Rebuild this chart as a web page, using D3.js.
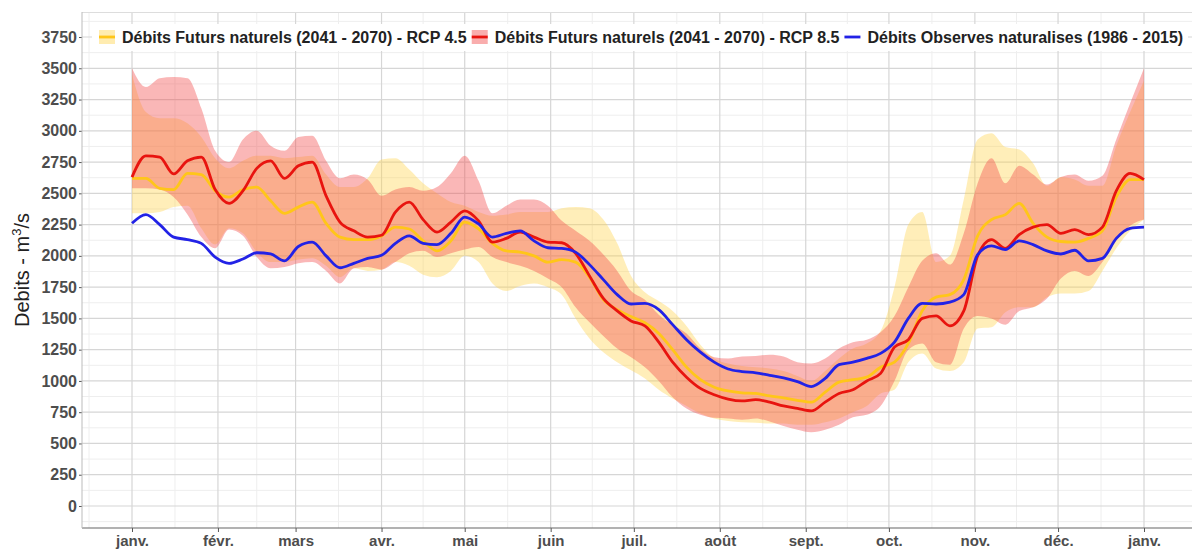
<!DOCTYPE html>
<html>
<head>
<meta charset="utf-8">
<script src="https://cdn.jsdelivr.net/npm/d3@7"></script>
<style>
  body { margin: 0; background: #fff; }
  text { font-family: "Liberation Sans", Arial, sans-serif; }
</style>
</head>
<body>
<svg id="chart"></svg>
<script>
// day of year (0 = 1 janv.)
const days = [0, 5, 10, 15, 20, 25, 30, 35, 40, 45, 50, 55, 60, 65, 70, 75, 80, 85, 90, 95,
  100, 105, 110, 115, 120, 125, 130, 135, 140, 145, 150, 155, 160, 165, 170, 175, 180, 185, 190, 195,
  200, 205, 210, 215, 220, 225, 230, 235, 240, 245, 250, 255, 260, 265, 270, 275, 280, 285, 290, 295,
  300, 305, 310, 315, 320, 325, 330, 335, 340, 345, 350, 355, 360, 365];

// Debits Observes naturalises (1986 - 2015)
const obs = [2260, 2330, 2250, 2150, 2130, 2100, 1990, 1940, 1975, 2025, 2015, 1960, 2075, 2110, 2000, 1905, 1940, 1980, 2005, 2100,
  2160, 2100, 2090, 2180, 2310, 2255, 2150, 2180, 2200, 2120, 2065, 2060, 2030, 1930, 1810, 1690, 1615, 1620, 1570, 1450,
  1330, 1230, 1150, 1095, 1075, 1065, 1045, 1025, 995, 955, 1020, 1130, 1150, 1180, 1220, 1310, 1500, 1620, 1615, 1630,
  1690, 2010, 2080, 2050, 2120, 2090, 2040, 2015, 2045, 1960, 1980, 2140, 2220, 2230];

// RCP 8.5 : median, lower and upper bound
const rcp85 = [2630, 2800, 2790, 2655, 2760, 2790, 2530, 2420, 2520, 2700, 2760, 2620, 2720, 2750, 2480, 2270, 2200, 2150, 2165, 2350,
  2430, 2290, 2190, 2270, 2360, 2280, 2110, 2140, 2190, 2150, 2110, 2105, 2020, 1840, 1660, 1560, 1480, 1440, 1310, 1150,
  1030, 940, 890, 855, 840, 850, 830, 800, 780, 760, 830, 900, 930, 1000, 1060, 1270, 1330, 1500, 1520, 1440,
  1560, 2000, 2130, 2060, 2170, 2230, 2250, 2180, 2210, 2170, 2230, 2520, 2660, 2610];
const rcp85Low = [2540, 2540, 2530, 2470, 2330, 2150, 2060, 2210, 2160, 1990, 1900, 1910, 1940, 1950, 1880, 1780, 1900, 1910, 1890, 1950,
  2020, 2040, 1990, 2020, 2050, 2070, 1990, 1950, 1920, 1880, 1820, 1750, 1590, 1470, 1360, 1260, 1190, 1110, 1000, 870,
  780, 730, 705, 700, 690, 700, 675, 640, 610, 590, 610, 650, 710, 730, 800, 1000, 1250, 1300, 1150, 1130,
  1420, 1520, 1500, 1450, 1560, 1590, 1660, 1820, 1880, 1840, 1950, 2120, 2240, 2290];
const rcp85High = [3500, 3350, 3420, 3430, 3420, 3180, 2840, 2750, 2930, 3000, 2880, 2840, 2950, 2960, 2760, 2620, 2650, 2610, 2480, 2530,
  2550, 2520, 2550, 2660, 2800, 2600, 2340, 2400, 2450, 2450, 2400, 2280, 2200, 2120, 2010, 1880, 1720, 1650, 1530, 1450,
  1380, 1260, 1190, 1180, 1195, 1200, 1210, 1195, 1150, 1140, 1180, 1260, 1310, 1330, 1390, 1520, 1750, 1960, 2020, 1930,
  2180, 2580, 2780, 2580, 2720, 2650, 2570, 2630, 2650, 2600, 2640, 2930, 3220, 3500];

// RCP 4.5 : median, lower and upper bound
const rcp45 = [2620, 2620, 2540, 2530, 2660, 2650, 2520, 2470, 2530, 2550, 2440, 2340, 2390, 2430, 2260, 2150, 2130, 2130, 2160, 2230,
  2215, 2120, 2040, 2120, 2270, 2215, 2100, 2040, 2030, 2000, 1950, 1970, 1950, 1830, 1650, 1570, 1515, 1465, 1380, 1250,
  1110, 1010, 950, 920, 905, 900, 880, 865, 845, 830, 910, 990, 1010, 1030, 1110, 1150, 1300, 1560, 1670, 1690,
  1810, 2160, 2290, 2330, 2420, 2260, 2150, 2115, 2110, 2140, 2200, 2470, 2610, 2610];
const rcp45Low = [2340, 2340, 2350, 2390, 2400, 2220, 2090, 2220, 2180, 2030, 1950, 1950, 1970, 1980, 1920, 1830, 1900, 1880, 1890, 1950,
  1920, 1850, 1830, 1880, 2000, 1950, 1780, 1720, 1760, 1780, 1750, 1690, 1500, 1340, 1230, 1150, 1085, 1020, 930, 860,
  800, 740, 700, 680, 670, 665, 660, 660, 650, 650, 670, 700, 750, 800, 900, 930, 1150, 1220, 1100, 1080,
  1150, 1420, 1430, 1550, 1590, 1590, 1670, 1700, 1700, 1720, 1880, 2060, 2200, 2290];
const rcp45High = [3450, 3150, 3100, 3100, 3060, 2950, 2780, 2700, 2760, 2800, 2800, 2780, 2790, 2800, 2650, 2550, 2550, 2620, 2770, 2780,
  2690, 2580, 2500, 2430, 2400, 2350, 2320, 2330, 2350, 2350, 2350, 2380, 2390, 2380, 2290, 2100, 1840, 1710, 1640, 1560,
  1440, 1290, 1180, 1140, 1120, 1110, 1100, 1080, 1040, 1000, 1080, 1180, 1260, 1300, 1400, 1750, 2250, 2350, 1950, 2000,
  2450, 2930, 2980, 2870, 2850, 2740, 2560, 2630, 2610, 2560, 2560, 2880, 3150, 3400];

const monthLabels = ['janv.', 'févr.', 'mars', 'avr.', 'mai', 'juin', 'juil.', 'août', 'sept.', 'oct.', 'nov.', 'déc.', 'janv.'];
const yTicks = [0, 250, 500, 750, 1000, 1250, 1500, 1750, 2000, 2250, 2500, 2750, 3000, 3250, 3500, 3750];
const legendLabels = [
  'Débits Futurs naturels (2041 - 2070) - RCP 4.5',
  'Débits Futurs naturels (2041 - 2070) - RCP 8.5',
  'Débits Observes naturalises (1986 - 2015)'
];

// Size and panel
const w = 1192;
const h = 551;
const panel = { left: 82, right: 1192, top: 12, bottom: 528 };

const colYellow = '#ffc619';
const colRed = '#e8140f';
const colBlue = '#2222e6';
const fillYellow = '#ffd54f';
const fillRed = '#f24a4a';
const opYellow = 0.4;
const opRed = 0.4;

// Scales
const t0 = Date.UTC(2021, 0, 1);
const toDate = function (d) { return new Date(t0 + d * 864e5); };
const xScale = d3.scaleUtc()
  .domain([new Date(t0), new Date(Date.UTC(2022, 0, 1))])
  .range([132, 1144]);
const yScale = d3.scaleLinear()
  .domain([-176, 3950])
  .range([panel.bottom, panel.top]);

const svg = d3.select('#chart')
  .attr('width', w)
  .attr('height', h);

svg.append('rect').attr('width', w).attr('height', h).attr('fill', '#fff');

svg.append('clipPath').attr('id', 'clip')
  .append('rect')
  .attr('x', panel.left).attr('y', panel.top)
  .attr('width', panel.right - panel.left).attr('height', panel.bottom - panel.top);

// Grid lines
const monthStarts = d3.utcMonth.range(new Date(t0), new Date(Date.UTC(2022, 0, 2)));
const xMinor = [];
for (let i = 0; i < monthStarts.length - 1; i++) {
  xMinor.push(new Date((+monthStarts[i] + +monthStarts[i + 1]) / 2));
}
xMinor.unshift(new Date(+monthStarts[0] - 15.5 * 864e5));
const yMinor = d3.range(-125, 3950, 250);

const grid = svg.append('g').attr('clip-path', 'url(#clip)');
grid.selectAll('.ymin').data(yMinor).enter().append('line')
  .attr('x1', panel.left).attr('x2', panel.right)
  .attr('y1', d => yScale(d)).attr('y2', d => yScale(d))
  .attr('stroke', '#eeeeee').attr('stroke-width', 1);
grid.selectAll('.xmin').data(xMinor).enter().append('line')
  .attr('x1', d => xScale(d)).attr('x2', d => xScale(d))
  .attr('y1', panel.top).attr('y2', panel.bottom)
  .attr('stroke', '#eeeeee').attr('stroke-width', 1);
grid.selectAll('.ymaj').data(yTicks).enter().append('line')
  .attr('x1', panel.left).attr('x2', panel.right)
  .attr('y1', d => yScale(d)).attr('y2', d => yScale(d))
  .attr('stroke', '#d6d6d6').attr('stroke-width', 1.2);
grid.selectAll('.xmaj').data(monthStarts).enter().append('line')
  .attr('x1', d => xScale(d)).attr('x2', d => xScale(d))
  .attr('y1', panel.top).attr('y2', panel.bottom)
  .attr('stroke', '#d6d6d6').attr('stroke-width', 1.2);
svg.append('line')
  .attr('x1', panel.left).attr('x2', panel.right)
  .attr('y1', panel.top + 0.5).attr('y2', panel.top + 0.5)
  .attr('stroke', '#dddddd').attr('stroke-width', 1);

// Ribbons and lines
const plot = svg.append('g').attr('clip-path', 'url(#clip)');

function ribbon(low, high) {
  return d3.area()
    .x((d, i) => xScale(toDate(days[i])))
    .y0((d, i) => yScale(low[i]))
    .y1((d, i) => yScale(high[i]))
    .curve(d3.curveMonotoneX)(days);
}
function line(values) {
  return d3.line()
    .x((d, i) => xScale(toDate(days[i])))
    .y(d => yScale(d))
    .curve(d3.curveMonotoneX)(values);
}

plot.append('path').attr('d', ribbon(rcp45Low, rcp45High))
  .attr('fill', fillYellow).attr('fill-opacity', opYellow);
plot.append('path').attr('d', ribbon(rcp85Low, rcp85High))
  .attr('fill', fillRed).attr('fill-opacity', opRed);

plot.append('path').attr('d', line(rcp45))
  .attr('fill', 'none').attr('stroke', colYellow).attr('stroke-width', 2.8).attr('stroke-linejoin', 'round');
plot.append('path').attr('d', line(rcp85))
  .attr('fill', 'none').attr('stroke', colRed).attr('stroke-width', 2.8).attr('stroke-linejoin', 'round');
plot.append('path').attr('d', line(obs))
  .attr('fill', 'none').attr('stroke', colBlue).attr('stroke-width', 2.8).attr('stroke-linejoin', 'round');

// Axes
const xAxis = d3.axisBottom(xScale)
  .tickValues(monthStarts)
  .tickFormat((d, i) => monthLabels[i])
  .tickSize(4)
  .tickPadding(3);
const gx = svg.append('g')
  .attr('transform', 'translate(0,' + panel.bottom + ')')
  .call(xAxis);
gx.select('.domain').remove();
gx.selectAll('line').attr('stroke', '#555');
gx.selectAll('text')
  .attr('font-size', 15).attr('font-weight', 'bold').attr('fill', '#4d4d4d');

const yAxis = d3.axisLeft(yScale)
  .tickValues(yTicks)
  .tickFormat(d3.format('d'))
  .tickSize(3)
  .tickPadding(2);
const gy = svg.append('g')
  .attr('transform', 'translate(' + panel.left + ',0)')
  .call(yAxis);
gy.select('.domain').remove();
gy.selectAll('line').attr('stroke', '#555');
gy.selectAll('text')
  .attr('font-size', 16).attr('font-weight', 'bold').attr('fill', '#4d4d4d');

// Axis lines
svg.append('line')
  .attr('x1', panel.left).attr('x2', panel.right)
  .attr('y1', panel.bottom).attr('y2', panel.bottom)
  .attr('stroke', '#666').attr('stroke-width', 1.2);
svg.append('line')
  .attr('x1', panel.left).attr('x2', panel.left)
  .attr('y1', panel.top).attr('y2', panel.bottom)
  .attr('stroke', '#bbb').attr('stroke-width', 1);

// Y title
const yTitle = svg.append('text')
  .attr('transform', 'translate(29,270) rotate(-90)')
  .attr('text-anchor', 'middle')
  .attr('font-size', 20)
  .attr('fill', '#222');
yTitle.append('tspan').text('Debits - m');
yTitle.append('tspan').attr('font-size', 13).attr('dy', -8).text('3');
yTitle.append('tspan').attr('dy', 8).text('/s');

// Legend
const legend = svg.append('g');
legend.append('rect')
  .attr('x', 92).attr('y', 24)
  .attr('width', 1096).attr('height', 27)
  .attr('fill', '#fff');

const keyFills = [fillYellow, fillRed, null];
const keyLines = [colYellow, colRed, colBlue];
let lx = 99;
legendLabels.forEach(function (label, i) {
  if (keyFills[i]) {
    legend.append('rect')
      .attr('x', lx).attr('y', 30)
      .attr('width', 16).attr('height', 14)
      .attr('fill', keyFills[i]).attr('fill-opacity', 0.45);
  }
  legend.append('line')
    .attr('x1', lx).attr('x2', lx + 16)
    .attr('y1', 37).attr('y2', 37)
    .attr('stroke', keyLines[i]).attr('stroke-width', 2.8);
  const t = legend.append('text')
    .attr('x', lx + 23).attr('y', 43)
    .attr('font-size', 16).attr('font-weight', 'bold').attr('fill', '#222')
    .text(label);
  lx += 23 + t.node().getComputedTextLength() + 5;
});
</script>
</body>
</html>
